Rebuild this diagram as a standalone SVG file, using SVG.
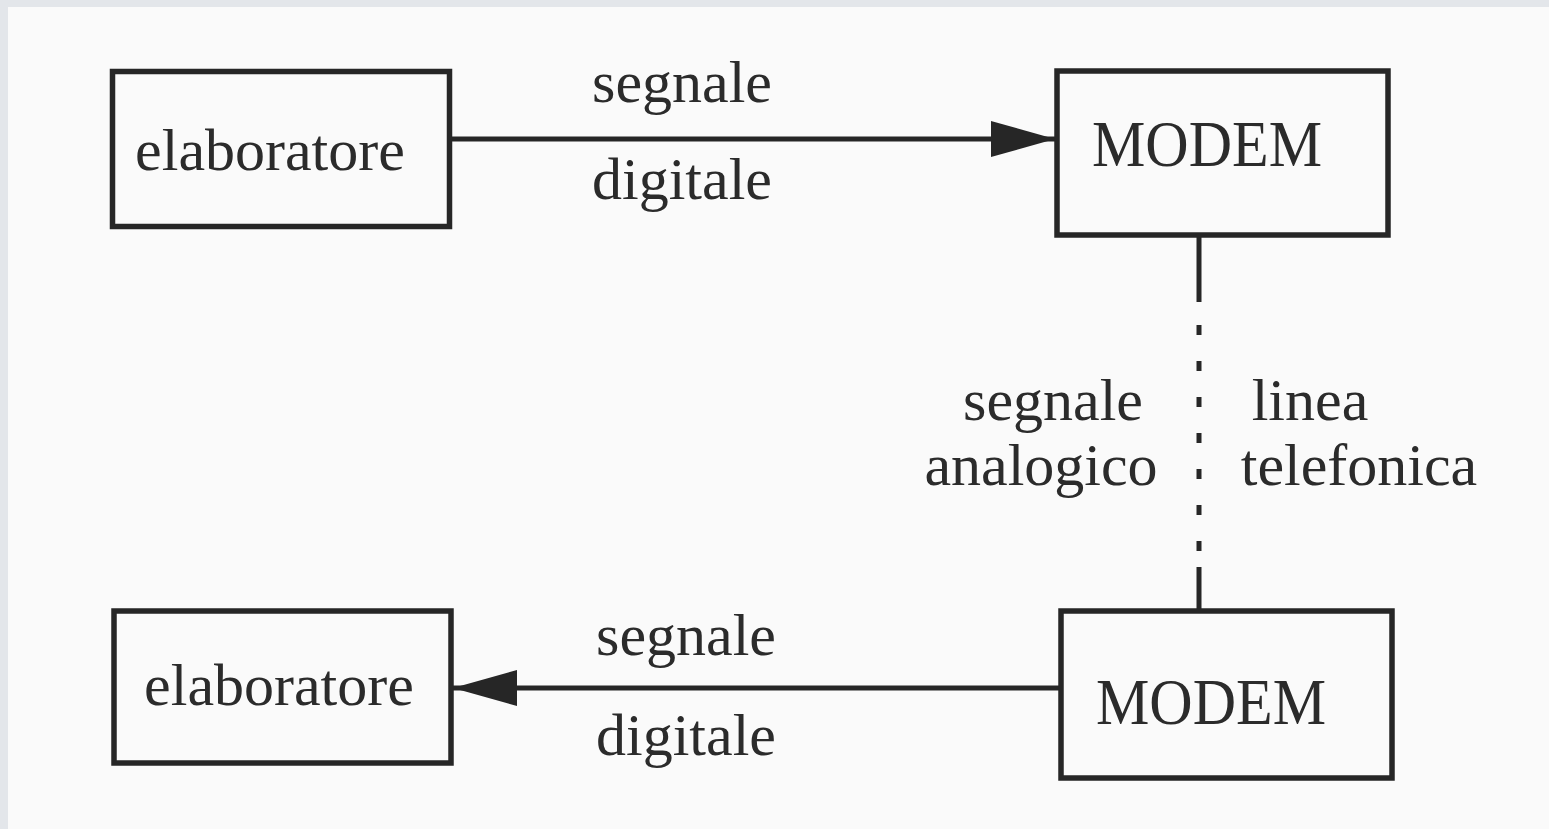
<svg xmlns="http://www.w3.org/2000/svg" width="1549" height="829" viewBox="0 0 1549 829">
  <defs>
    <style>
      .box { fill: none; stroke: #262626; stroke-width: 5.5; }
      .lbl { font-family: "Liberation Serif", "Times New Roman", serif; font-size: 60px; fill: #2b2b2b; text-anchor: middle; }
      .wire { stroke: #262626; stroke-width: 5; fill: none; }
      .dots { stroke: #262626; stroke-width: 5; fill: none; stroke-dasharray: 10 26; }
    </style>
    <marker id="arr" markerUnits="userSpaceOnUse" markerWidth="64" markerHeight="38" refX="64" refY="19" orient="auto">
      <path d="M0,1 L64,19 L0,37 Z" fill="#262626"/>
    </marker>
  </defs>

  <rect x="0" y="0" width="1549" height="829" fill="#e3e6ea"/>
  <rect x="8" y="7" width="1541" height="822" fill="#fafafa"/>

  <g id="connectors">
    <line class="wire" x1="450" y1="139" x2="1055" y2="139" marker-end="url(#arr)"/>
    <line class="wire" x1="1059" y1="688" x2="453" y2="688" marker-end="url(#arr)"/>
    <line class="wire" x1="1199" y1="235" x2="1199" y2="302"/>
    <line class="dots" x1="1199" y1="325" x2="1199" y2="555"/>
    <line class="wire" x1="1199" y1="567" x2="1199" y2="611"/>
    <text class="lbl" x="682" y="102">segnale</text>
    <text class="lbl" x="682" y="199">digitale</text>
    <text class="lbl" x="686" y="655">segnale</text>
    <text class="lbl" x="686" y="755">digitale</text>
    <text class="lbl" x="1053" y="420">segnale</text>
    <text class="lbl" x="1041" y="485">analogico</text>
    <text class="lbl" x="1310" y="420">linea</text>
    <text class="lbl" x="1359" y="485">telefonica</text>
  </g>

  <g id="elaboratore-top">
    <rect class="box" x="112.5" y="71.5" width="337" height="155"/>
    <text class="lbl" x="270" y="170">elaboratore</text>
  </g>
  <g id="modem-top">
    <rect class="box" x="1057" y="71" width="331" height="164"/>
    <text class="lbl" transform="translate(1207,166) scale(1,1.1)">MODEM</text>
  </g>
  <g id="elaboratore-bottom">
    <rect class="box" x="114" y="611" width="337" height="152"/>
    <text class="lbl" x="279" y="705">elaboratore</text>
  </g>
  <g id="modem-bottom">
    <rect class="box" x="1061" y="611" width="331" height="167"/>
    <text class="lbl" transform="translate(1211,724) scale(1,1.1)">MODEM</text>
  </g>
</svg>
